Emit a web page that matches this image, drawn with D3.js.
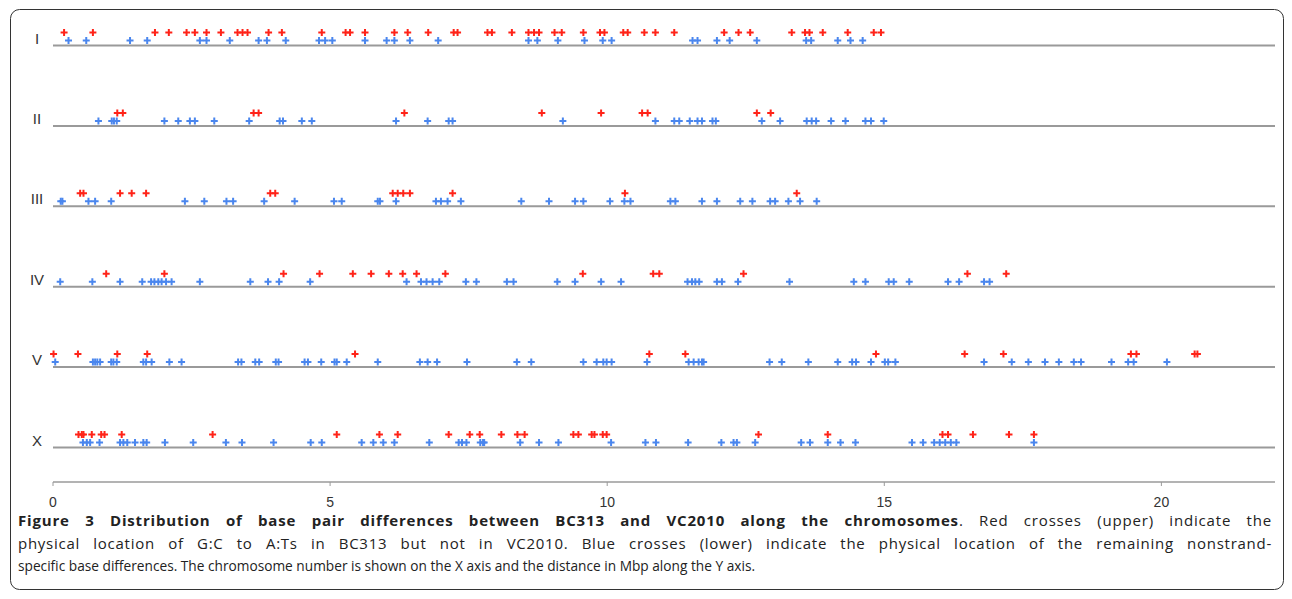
<!DOCTYPE html>
<html>
<head>
<meta charset="utf-8">
<script src="https://cdn.jsdelivr.net/npm/d3@7"></script>
<style>
  body { margin: 0; background: #fff; }
  svg { display: block; }
</style>
</head>
<body>
<svg id="chart" width="1292" height="599"></svg>
<script>
// chromosome rows, top to bottom
const chromosomes = ["I", "II", "III", "IV", "V", "X"];
const xTicks = [0, 5, 10, 15, 20];

// positions in Mbp, red = G:C to A:T (upper), blue = remaining differences (lower)
const redI = [0.20, 0.72, 1.84, 2.09, 2.41, 2.56, 2.77, 3.03, 3.33, 3.42, 3.51, 3.89, 4.13, 4.85, 5.28, 5.36, 5.63, 6.16, 6.40, 6.77, 7.23, 7.30, 7.84, 7.92, 8.28, 8.58, 8.68, 8.77, 9.05, 9.18, 9.57, 9.87, 9.95, 10.29, 10.37, 10.67, 10.87, 11.21, 12.11, 12.37, 12.58, 13.33, 13.57, 13.65, 13.89, 14.34, 14.81, 14.94];
const blueI = [0.28, 0.60, 1.39, 1.70, 2.65, 2.77, 3.19, 3.71, 3.86, 4.20, 4.80, 4.91, 5.04, 5.63, 6.02, 6.16, 6.44, 6.95, 8.58, 8.74, 9.11, 9.59, 9.92, 10.08, 11.54, 11.63, 11.98, 12.21, 12.70, 13.59, 13.68, 14.16, 14.39, 14.61];

const redII = [1.16, 1.26, 3.62, 3.71, 6.34, 8.82, 9.89, 10.63, 10.73, 12.70, 12.95];
const blueII = [0.82, 1.06, 1.10, 1.15, 2.01, 2.26, 2.47, 2.56, 2.91, 3.54, 4.09, 4.15, 4.49, 4.67, 6.19, 6.76, 7.14, 7.21, 9.20, 10.87, 11.21, 11.30, 11.49, 11.63, 11.71, 11.90, 11.96, 12.79, 13.12, 13.60, 13.69, 13.77, 14.04, 14.30, 14.66, 14.76, 14.99];

const redIII = [0.49, 0.55, 1.21, 1.42, 1.68, 3.92, 4.01, 6.13, 6.22, 6.32, 6.44, 7.21, 10.32, 13.42];
const blueIII = [0.14, 0.17, 0.64, 0.76, 1.05, 2.38, 2.73, 3.13, 3.25, 3.81, 4.36, 5.07, 5.21, 5.86, 5.90, 6.19, 6.91, 7.00, 7.12, 7.36, 8.45, 8.95, 9.42, 9.57, 10.05, 10.31, 10.42, 11.14, 11.23, 11.71, 11.98, 12.40, 12.62, 12.94, 13.03, 13.27, 13.48, 13.78];

const redIV = [0.96, 2.01, 4.16, 4.81, 5.41, 5.74, 6.06, 6.31, 6.56, 7.08, 9.56, 10.83, 10.94, 12.46, 16.50, 17.20];
const blueIV = [0.13, 0.71, 1.21, 1.61, 1.77, 1.83, 1.90, 1.96, 2.04, 2.14, 2.65, 3.56, 3.88, 4.08, 4.64, 6.38, 6.64, 6.74, 6.85, 6.97, 7.45, 7.64, 8.19, 8.31, 9.10, 9.42, 9.89, 10.25, 11.45, 11.53, 11.59, 11.66, 11.98, 12.07, 12.36, 13.29, 14.45, 14.66, 15.08, 15.17, 15.45, 16.15, 16.35, 16.80, 16.90];

const redV = [0.01, 0.45, 1.16, 1.70, 5.45, 10.76, 11.41, 14.85, 16.45, 17.15, 19.45, 19.55, 20.60, 20.65];
const blueV = [0.04, 0.72, 0.76, 0.80, 0.85, 1.05, 1.09, 1.15, 1.63, 1.68, 1.78, 2.10, 2.32, 3.34, 3.40, 3.65, 3.72, 4.02, 4.07, 4.54, 4.60, 4.84, 5.08, 5.12, 5.30, 5.86, 6.62, 6.76, 6.93, 7.47, 8.37, 8.63, 9.57, 9.81, 9.93, 9.99, 10.08, 10.72, 11.47, 11.56, 11.65, 11.71, 11.74, 12.93, 13.15, 13.63, 14.16, 14.42, 14.49, 14.76, 15.01, 15.07, 15.20, 16.80, 17.30, 17.60, 17.90, 18.15, 18.42, 18.55, 19.10, 19.40, 19.50, 20.10];

const redX = [0.46, 0.52, 0.55, 0.70, 0.87, 0.93, 1.24, 2.88, 5.12, 5.89, 6.22, 7.14, 7.52, 7.70, 8.09, 8.38, 8.51, 9.39, 9.48, 9.72, 9.77, 9.92, 9.99, 12.73, 13.98, 16.05, 16.15, 16.60, 17.25, 17.70];
const blueX = [0.54, 0.61, 0.67, 0.84, 1.21, 1.27, 1.34, 1.48, 1.63, 1.69, 2.02, 2.53, 3.12, 3.41, 3.98, 4.65, 4.85, 5.57, 5.78, 5.96, 6.16, 6.79, 7.32, 7.38, 7.46, 7.71, 7.76, 7.78, 8.43, 8.77, 9.12, 10.07, 10.69, 10.88, 11.46, 12.06, 12.28, 12.34, 12.67, 13.50, 13.66, 13.98, 14.21, 14.48, 15.50, 15.70, 15.90, 16.00, 16.10, 16.20, 16.30, 17.70];

const redByChrom = [redI, redII, redIII, redIV, redV, redX];
const blueByChrom = [blueI, blueII, blueIII, blueIV, blueV, blueX];

const svg = d3.select("#chart");

// figure frame
svg.append("rect")
    .attr("x", 10.5).attr("y", 9.5)
    .attr("width", 1273).attr("height", 580)
    .attr("rx", 9)
    .attr("fill", "none")
    .attr("stroke", "#333")
    .attr("stroke-width", 1);

const x = d3.scaleLinear().domain([0, 22.05]).range([53, 1275]);
const y = d3.scalePoint().domain(chromosomes).range([45.5, 447.5]);

const crossPath = "M-3.5,0H3.5M0,-3.5V3.5";

chromosomes.forEach((chr, i) => {
    const g = svg.append("g").attr("class", "row-" + chr);
    const base = y(chr);

    // baseline
    g.append("line")
        .attr("x1", x.range()[0]).attr("x2", x.range()[1])
        .attr("y1", base).attr("y2", base)
        .attr("stroke", "#9a9a9a")
        .attr("stroke-width", 2);

    // row label
    g.append("text")
        .attr("x", 37).attr("y", base - 2)
        .attr("text-anchor", "middle")
        .attr("font-family", "'Liberation Sans', Arial, sans-serif")
        .attr("font-size", 15)
        .attr("fill", "#333")
        .text(chr);

    // blue crosses (lower)
    g.selectAll("path.blue")
        .data(blueByChrom[i])
        .join("path")
        .attr("class", "blue")
        .attr("d", crossPath)
        .attr("transform", d => `translate(${x(d)},${base - 5})`)
        .attr("stroke", "#4a86ee")
        .attr("stroke-width", 2)
        .attr("fill", "none");

    // red crosses (upper)
    g.selectAll("path.red")
        .data(redByChrom[i])
        .join("path")
        .attr("class", "red")
        .attr("d", crossPath)
        .attr("transform", d => `translate(${x(d)},${base - 13})`)
        .attr("stroke", "#ff2318")
        .attr("stroke-width", 2)
        .attr("fill", "none");
});

// x axis
const axisY = 482;
svg.append("line")
    .attr("x1", x.range()[0]).attr("x2", x.range()[1])
    .attr("y1", axisY).attr("y2", axisY)
    .attr("stroke", "#9a9a9a")
    .attr("stroke-width", 1.5);

const tickG = svg.append("g").selectAll("g")
    .data(xTicks)
    .join("g")
    .attr("transform", d => `translate(${x(d)},${axisY})`);
tickG.append("line")
    .attr("y1", 0).attr("y2", 4)
    .attr("stroke", "#9a9a9a");
tickG.append("text")
    .attr("y", 25)
    .attr("text-anchor", "middle")
    .attr("font-family", "'Liberation Sans', Arial, sans-serif")
    .attr("font-size", 14)
    .attr("fill", "#333")
    .text(d => d);

// caption lines, the first two justified to the right edge
const capLines = [
    { bold: "Figure 3 Distribution of base pair differences between BC313 and VC2010 along the chromosomes",
      rest: ". Red crosses (upper) indicate the", x1: 1272, y: 526, justify: true },
    { bold: "", rest: "physical location of G:C to A:Ts in BC313 but not in VC2010. Blue crosses (lower) indicate the physical location of the remaining nonstrand-",
      x1: 1272, y: 549, justify: true },
    { bold: "", rest: "specific base differences. The chromosome number is shown on the X axis and the distance in Mbp along the Y axis.",
      x1: 755, y: 571, justify: false }
];
const capLeft = 18;

const caption = svg.append("g")
    .attr("font-family", "'Open Sans', 'Noto Sans', sans-serif")
    .attr("font-size", 15)
    .attr("fill", "#222");

capLines.forEach(ln => {
    const t = caption.append("text")
        .attr("x", capLeft).attr("y", ln.y);
    if (ln.bold) t.append("tspan").attr("font-weight", "bold").text(ln.bold);
    t.append("tspan").text(ln.rest);

    const str = ln.bold + ln.rest;
    const target = ln.x1 - capLeft;
    const natural = t.node().getComputedTextLength();
    if (!ln.justify || natural > target) {
        // reference face is narrower than ours, squeeze slightly
        t.attr("textLength", target).attr("lengthAdjust", "spacingAndGlyphs");
        return;
    }
    t.attr("letter-spacing", (target - natural) * 0.35 / str.length);
    const left = target - t.node().getComputedTextLength();
    t.attr("word-spacing", Math.max(0, left / (str.split(" ").length - 1)));
});
</script>
</body>
</html>
